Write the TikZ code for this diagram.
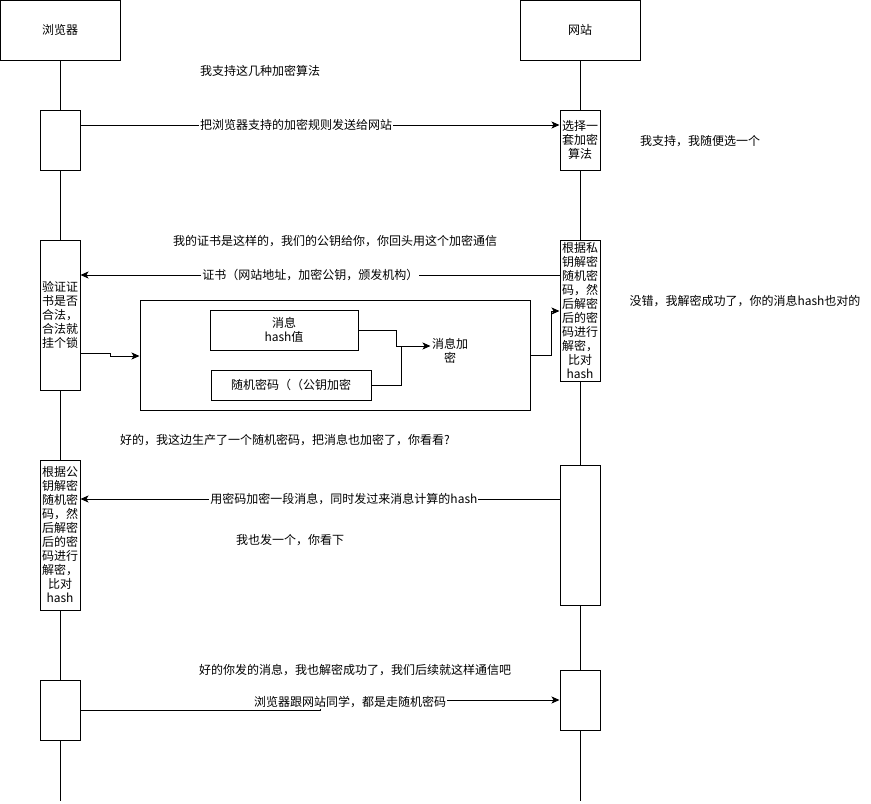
\documentclass[tikz,border=0pt]{standalone}
\usepackage{fontspec}
\setmainfont{Noto Sans CJK SC}
\usetikzlibrary{arrows.meta}

\begin{document}
\begin{tikzpicture}[x=1pt,y=-1pt,line width=1pt,
    font=\fontsize{12}{14}\selectfont,
    head/.style={draw, minimum width=120pt, minimum height=60pt},
    act/.style={draw, fill=white, minimum width=40pt, inner sep=0pt, align=center},
    box/.style={draw, inner sep=0pt, align=center},
    note/.style={inner sep=1pt},
    lbl/.style={fill=white, inner sep=1pt},
    arr/.style={-{Stealth[length=8pt,width=7pt,inset=2pt]}}]
\useasboundingbox (0,0) rectangle (871,804);

\node[head] (browser) at (60,30) {浏览器};
\node[head] (site) at (580,30) {网站};
\coordinate (browserend) at (60,801);
\coordinate (siteend) at (580,801);
\draw (browser) -- (browserend);
\draw (site) -- (siteend);

\node[act, minimum height=60pt] (ba1) at (60,140) {};
\node[act, minimum height=60pt] (wa1) at (580,140) {选择一\\套加密\\算法};
\node[act, minimum height=150pt] (ba2) at (60,315) {验证证\\书是否\\合法，\\合法就\\挂个锁};
\node[act, minimum height=141pt] (wa2) at (580,310.5) {根据私\\钥解密\\随机密\\码，然\\后解密\\后的密\\码进行\\解密，\\比对\\hash};
\node[act, minimum height=150pt] (ba3) at (60,535) {根据公\\钥解密\\随机密\\码，然\\后解密\\后的密\\码进行\\解密，\\比对\\hash};
\node[act, minimum height=140pt] (wa3) at (580,535) {};
\node[act, minimum height=60pt] (ba4) at (60,710) {};
\node[act, minimum height=60pt] (wa4) at (580,700) {};

\node[box, minimum width=390pt, minimum height=110pt] (msgbox) at (335,355) {};
\node[box, minimum width=148pt, minimum height=40pt] (hashbox) at (284,330) {消息\\hash值};
\node[box, minimum width=160pt, minimum height=30pt] (keybox) at (291,385) {随机密码（（公钥加密};
\node[note, align=center] (enc) at (450,351) {消息加\\密};

\node[note] (n1) at (260,71) {我支持这几种加密算法};
\node[note] (n2) at (700,141) {我支持，我随便选一个};
\node[note] (n3) at (335,241) {我的证书是这样的，我们的公钥给你，你回头用这个加密通信};
\node[note] (n4) at (745,301) {没错，我解密成功了，你的消息hash也对的};
\node[note] (n5) at (285,440) {好的，我这边生产了一个随机密码，把消息也加密了，你看看?};
\node[note] (n6) at (290,540) {我也发一个，你看下};
\node[note] (n7) at (355,670) {好的你发的消息，我也解密成功了，我们后续就这样通信吧};

\draw[arr] (ba1.east |- 0,125) -- node[lbl, pos=0.45] (m1) {把浏览器支持的加密规则发送给网站} (wa1.west |- 0,125);
\draw[arr] (wa2.west |- 0,275) -- node[lbl, pos=0.52] (m2) {证书（网站地址，加密公钥，颁发机构）} (ba2.east |- 0,275);
\draw[arr] (ba2.east |- 0,353) -| (110,356) -- (msgbox.west |- 0,356);
\draw[arr] (hashbox.east) -| (396,346) -- (enc.west |- 0,346);
\draw (keybox.east) -| (401,346);
\draw[arr] (msgbox.east) -| (551,311) -- (wa2.west |- 0,311);
\draw[arr] (wa3.west |- 0,499) -- node[lbl, pos=0.45] (m3) {用密码加密一段消息，同时发过来消息计算的hash} (ba3.east |- 0,499);
\draw[arr] (ba4.east) -| (320,700) -- (wa4.west);
\node[lbl] (m4) at (350,702) {浏览器跟网站同学，都是走随机密码};
\end{tikzpicture}
\end{document}
